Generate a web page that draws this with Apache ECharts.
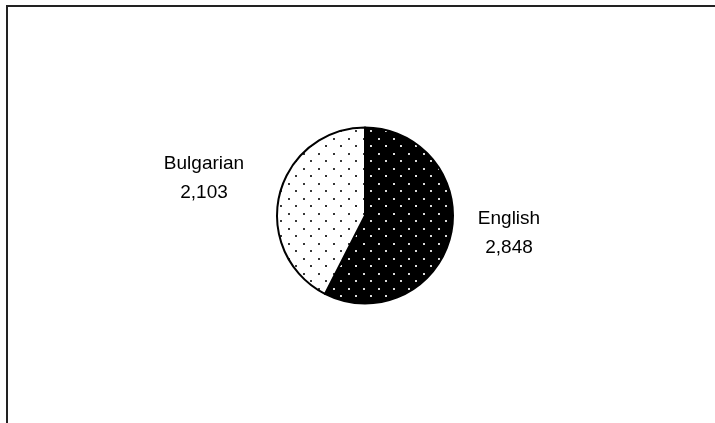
<!DOCTYPE html>
<html>
<head>
<meta charset="utf-8">
<script src="https://cdn.jsdelivr.net/npm/echarts@6/dist/echarts.min.js"></script>
<style>
html,body{margin:0;padding:0;background:#fff;}
#main{width:715px;height:423px;}
</style>
</head>
<body>
<div id="main"></div>
<script>
// Data
var categories = ['English', 'Bulgarian'];
var values = [2848, 2103];

function makePattern(bg, dot) {
  var c = document.createElement('canvas');
  c.width = 15; c.height = 15;
  var ctx = c.getContext('2d');
  ctx.fillStyle = bg;
  ctx.fillRect(0, 0, 15, 15);
  ctx.fillStyle = dot;
  ctx.fillRect(3, 3, 2, 2);
  ctx.fillRect(10, 10, 2, 2);
  return c;
}
var patterns = [
  { image: makePattern('#000000', '#d8d8d8'), repeat: 'repeat' },
  { image: makePattern('#ffffff', '#3a3a3a'), repeat: 'repeat' }
];

function fmt(v) { return v.toLocaleString('en-US'); }

var labelPos = [
  { x: 509, y: 233 },
  { x: 204, y: 178 }
];

var chart = echarts.init(document.getElementById('main'));
chart.setOption({
  animation: false,
  backgroundColor: '#ffffff',
  graphic: [{
    type: 'rect',
    shape: { x: 7, y: 6, width: 900, height: 600 },
    style: { fill: 'none', stroke: '#222', lineWidth: 2 },
    silent: true
  }],
  series: [{
    type: 'pie',
    center: [365, 215.5],
    radius: [0, 88],
    startAngle: 90,
    clockwise: true,
    silent: true,
    itemStyle: { borderColor: '#000', borderWidth: 2 },
    label: {
      show: true,
      position: 'outside',
      formatter: function (p) { return p.name + '\n' + fmt(p.value); },
      fontFamily: 'Liberation Sans, Arial, sans-serif',
      fontSize: 19,
      lineHeight: 29,
      color: '#000',
      align: 'center'
    },
    labelLine: { show: false },
    labelLayout: function (params) {
      var p = labelPos[params.dataIndex];
      return { x: p.x, y: p.y, align: 'center', verticalAlign: 'middle' };
    },
    data: categories.map(function (n, i) {
      return { name: n, value: values[i], itemStyle: { color: patterns[i] } };
    })
  }]
});
</script>
</body>
</html>
